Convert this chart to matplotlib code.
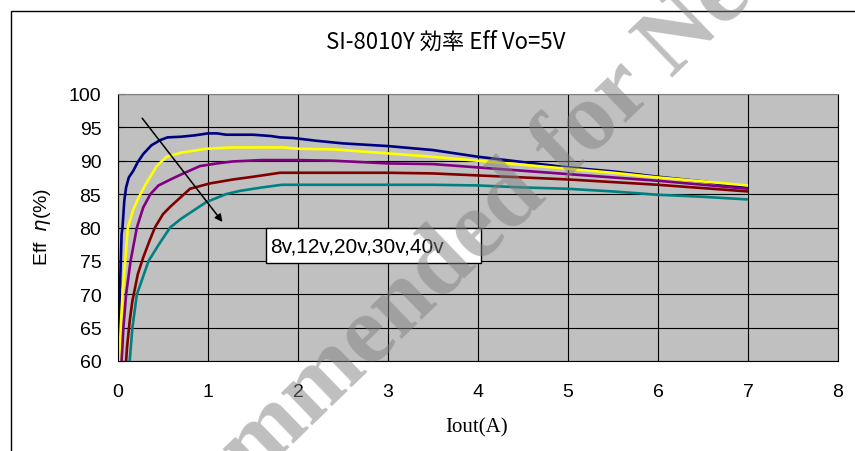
import matplotlib.pyplot as plt
from matplotlib.patches import Rectangle

plt.rcParams['font.family'] = ['Liberation Sans', 'DejaVu Sans']

# Datos: Iout (A) y eficiencia (%)
x_8v = [0.01, 0.02, 0.04, 0.05, 0.07, 0.09, 0.12, 0.17, 0.22, 0.28, 0.37, 0.47, 0.55, 0.7,
        0.85, 1.0, 1.1, 1.2, 1.5, 1.7, 1.8, 1.95, 2.2, 2.5, 3.0, 3.5, 4.0, 4.5, 5.0, 5.5,
        6.0, 6.5, 7.0]
eff_8v = [60, 70, 79, 80, 84, 86, 87.5, 88.5, 89.8, 91, 92.3, 93.1, 93.5, 93.6,
          93.8, 94.1, 94.1, 93.9, 93.9, 93.7, 93.5, 93.4, 93.0, 92.6, 92.2, 91.6, 90.6, 89.8, 89.0, 88.4,
          87.6, 86.9, 85.9]

x_12v = [0.015, 0.03, 0.05, 0.08, 0.11, 0.17, 0.23, 0.3, 0.43, 0.54, 0.7, 0.98, 1.28, 1.6,
         1.84, 2.0, 2.4, 3.0, 3.4, 4.0, 4.5, 5.0, 5.5, 6.0, 6.5, 7.0]
eff_12v = [60, 65, 70, 75, 80, 82.7, 84.5, 86.3, 89.2, 90.6, 91.2, 91.8, 92.0, 92.0,
           92.0, 91.8, 91.7, 91.1, 90.7, 90.0, 89.4, 88.8, 88.2, 87.5, 86.9, 86.3]

x_20v = [0.04, 0.06, 0.09, 0.14, 0.21, 0.28, 0.36, 0.45, 0.6, 0.71, 0.91, 1.1, 1.28, 1.6,
         2.0, 2.4, 3.0, 3.5, 4.0, 4.5, 5.0, 5.5, 6.0, 6.5, 7.0]
eff_20v = [60, 65, 70, 75, 80, 83, 85, 86.3, 87.3, 88, 89.2, 89.6, 89.9, 90.1,
           90.1, 90.0, 89.6, 89.5, 89.0, 88.5, 88.0, 87.5, 87.0, 86.4, 85.8]

x_30v = [0.09, 0.1, 0.13, 0.16, 0.22, 0.28, 0.35, 0.41, 0.5, 0.58, 0.8, 1.02, 1.28, 1.5,
         1.8, 2.4, 3.0, 3.5, 4.0, 4.5, 5.0, 5.5, 6.0, 6.5, 7.0]
eff_30v = [60, 62, 66, 69, 73, 75.5, 78, 80, 82, 83.1, 85.8, 86.6, 87.2, 87.6,
           88.2, 88.2, 88.2, 88.1, 87.8, 87.5, 87.2, 86.8, 86.4, 85.9, 85.4]

x_40v = [0.13, 0.16, 0.21, 0.34, 0.47, 0.58, 0.7, 0.98, 1.2, 1.36, 1.6, 1.82, 2.5, 3.0,
         3.5, 4.0, 4.5, 5.0, 5.5, 6.0, 6.5, 7.0]
eff_40v = [60, 65, 70, 75, 77.8, 80, 81.3, 83.8, 85, 85.5, 86, 86.4, 86.4, 86.4,
           86.4, 86.3, 86.0, 85.8, 85.4, 84.9, 84.6, 84.2]

series = [(x_8v, eff_8v, '#000080'),
          (x_12v, eff_12v, '#ffff00'),
          (x_20v, eff_20v, '#800080'),
          (x_30v, eff_30v, '#800000'),
          (x_40v, eff_40v, '#008080')]

x_ticks = [0, 1, 2, 3, 4, 5, 6, 7, 8]
y_ticks = [60, 65, 70, 75, 80, 85, 90, 95, 100]

fig = plt.figure(figsize=(8.55, 4.52), dpi=100)
ax = fig.add_axes([118/855, 1 - 362/452, 720/855, 267/452])
ax.set_facecolor('#c0c0c0')

for xs, ys, col in series:
    ax.plot(xs, ys, color=col, lw=1.9, solid_capstyle='butt')

ax.set_xlim(0, 8)
ax.set_ylim(60, 100)
ax.set_xticks(x_ticks)
ax.set_yticks(y_ticks)
ax.grid(True, color='black', lw=0.8)
ax.set_axisbelow(True)
ax.tick_params(axis='both', direction='in', length=5, labelsize=14)
ax.tick_params(axis='y', pad=12)
ax.tick_params(axis='x', pad=16, length=0)
for s in ['left', 'bottom', 'right']:
    ax.spines[s].set_color('black')
ax.spines['top'].set_color('#808080')

# flecha y recuadro de tensiones de entrada
ax.annotate('', xy=(1.18, 80.5), xytext=(0.25, 96.7),
            arrowprops=dict(arrowstyle='-|>', color='black', lw=1.1, mutation_scale=11))
ax.add_patch(Rectangle((1.64, 74.75), 2.39, 5.2, fc='white', ec='black', lw=1, zorder=4))
ax.text(1.69, 77.3, '8v,12v,20v,30v,40v', ha='left', va='center', fontsize=15, zorder=5)

fig.text(446/855, 1 - 42/452, 'SI-8010Y 効率 Eff Vo=5V', ha='center', va='center',
         fontsize=16, family=['Noto Sans CJK JP', 'DejaVu Sans'])
fig.text(42/855, 1 - 227/452, 'Eff  $\\eta$(%)', rotation=90, ha='center', va='center',
         fontsize=14)
fig.text(477/855, 1 - 428/452, 'Iout(A)', ha='center', va='center', fontsize=15,
         family='Liberation Serif')

# marco exterior
fig.add_artist(Rectangle((11/855, -0.1), 1.2, 1.1 - 12/452, transform=fig.transFigure,
                         fill=False, ec='black', lw=1))

# marca de agua (cortada por los bordes, como en el original)
fig.text(484/855, 1 - 226/452, 'Not Recommended for New Design', rotation=44,
         rotation_mode='anchor', ha='center', va='center', fontsize=70,
         family='Liberation Serif', weight='bold', color='#808080', alpha=0.5, zorder=10)

fig.savefig('out.png', dpi=100)
